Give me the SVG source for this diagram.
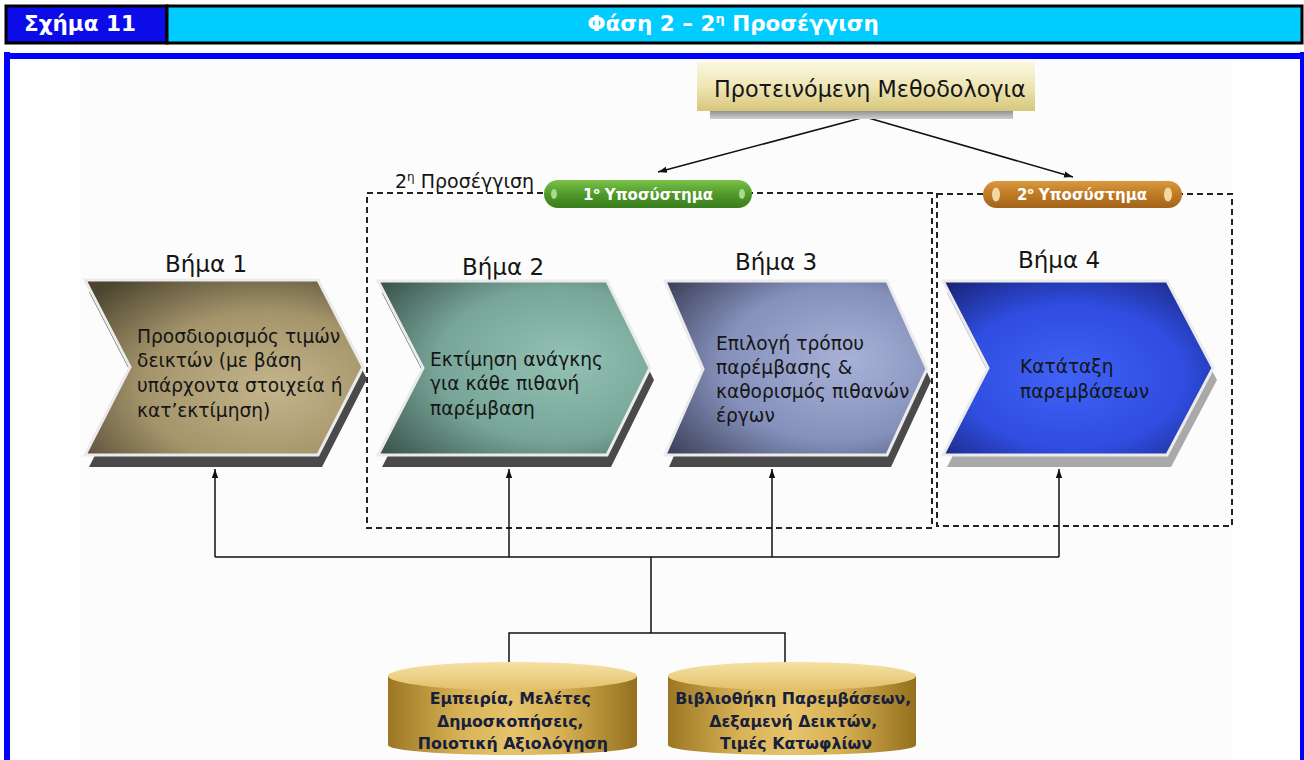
<svg xmlns="http://www.w3.org/2000/svg" width="1304" height="760" viewBox="0 0 1304 760">
<defs>
  <style>
    .t { font-family: "DejaVu Sans", Verdana, "Noto Sans", sans-serif; fill: #151515; }
    .hdr { font-family: "DejaVu Sans", Verdana, sans-serif; font-weight: bold; fill: #ffffff; font-size: 21.5px; }
    .step { font-size: 23px; }
    .body { font-size: 18.6px; }
    .pill { font-family: "DejaVu Sans", Verdana, sans-serif; font-weight: bold; fill: #ffffff; font-size: 15px; }
    .cyl { font-family: "DejaVu Sans", Verdana, sans-serif; font-weight: bold; fill: #16203c; font-size: 15.8px; }
    .conn { stroke: #111; stroke-width: 1.5; fill: none; }
    .dash { stroke: #222; stroke-width: 2; stroke-dasharray: 6 4; fill: none; }
    .chev { stroke: #ebebeb; stroke-width: 3; stroke-linejoin: miter; }
    .shd { fill: #4a4a4a; }
  </style>
  <marker id="ah" viewBox="0 0 10 10" refX="10" refY="5" markerWidth="9" markerHeight="9" markerUnits="userSpaceOnUse" orient="auto">
    <path d="M0,1.5 L10,5 L0,8.5 Z" fill="#111"/>
  </marker>
  <linearGradient id="gMeth" x1="0" y1="0" x2="0" y2="1">
    <stop offset="0" stop-color="#fbf8e2"/>
    <stop offset="0.5" stop-color="#efe6b4"/>
    <stop offset="1" stop-color="#d6c67c"/>
  </linearGradient>
  <linearGradient id="gMethShadow" x1="0" y1="0" x2="0" y2="1">
    <stop offset="0" stop-color="#7a7a7a"/>
    <stop offset="1" stop-color="#d0d0d0"/>
  </linearGradient>
  <radialGradient id="g1" cx="0.62" cy="0.62" r="0.8" fx="0.68" fy="0.62">
    <stop offset="0" stop-color="#c4b58c"/>
    <stop offset="0.55" stop-color="#a3946a"/>
    <stop offset="1" stop-color="#4c4430"/>
  </radialGradient>
  <radialGradient id="g2" cx="0.62" cy="0.5" r="0.8" fx="0.7" fy="0.45">
    <stop offset="0" stop-color="#93c1b3"/>
    <stop offset="0.55" stop-color="#77a597"/>
    <stop offset="1" stop-color="#364d47"/>
  </radialGradient>
  <radialGradient id="g3" cx="0.62" cy="0.5" r="0.8" fx="0.7" fy="0.45">
    <stop offset="0" stop-color="#a8b2d8"/>
    <stop offset="0.55" stop-color="#8590bb"/>
    <stop offset="1" stop-color="#373b52"/>
  </radialGradient>
  <radialGradient id="g4" cx="0.5" cy="0.55" r="0.75" fx="0.45" fy="0.55">
    <stop offset="0" stop-color="#3f62f5"/>
    <stop offset="0.55" stop-color="#2f4de0"/>
    <stop offset="1" stop-color="#16206e"/>
  </radialGradient>
  <linearGradient id="gGreen" x1="0" y1="0" x2="0" y2="1">
    <stop offset="0" stop-color="#7cc24a"/>
    <stop offset="0.5" stop-color="#4f9a2a"/>
    <stop offset="1" stop-color="#3a7d1c"/>
  </linearGradient>
  <linearGradient id="gOrange" x1="0" y1="0" x2="0" y2="1">
    <stop offset="0" stop-color="#d9983e"/>
    <stop offset="0.5" stop-color="#bf7a24"/>
    <stop offset="1" stop-color="#a2641a"/>
  </linearGradient>
  <linearGradient id="gCylBody" x1="0" y1="0" x2="1" y2="0">
    <stop offset="0" stop-color="#9c7622"/>
    <stop offset="0.3" stop-color="#d9b457"/>
    <stop offset="0.5" stop-color="#e6c46c"/>
    <stop offset="0.7" stop-color="#d6b052"/>
    <stop offset="1" stop-color="#94701e"/>
  </linearGradient>
  <linearGradient id="gCylTop" x1="0" y1="0" x2="0" y2="1">
    <stop offset="0" stop-color="#f6e2a4"/>
    <stop offset="1" stop-color="#e2c06a"/>
  </linearGradient>
</defs>

<!-- page background -->
<rect x="0" y="0" width="1304" height="760" fill="#ffffff"/>
<rect x="80" y="60" width="1152" height="700" fill="#fcfcfc"/>

<!-- header -->
<g id="header">
  <rect x="6" y="6" width="161" height="37" fill="#0c0ce8" stroke="#000" stroke-width="3"/>
  <rect x="167" y="6" width="1135" height="37" fill="#00ccff" stroke="#000" stroke-width="3"/>
  <text class="hdr" x="24" y="31">Σχήμα 11</text>
  <text class="hdr" x="733" y="31" text-anchor="middle">Φάση 2 – 2<tspan font-size="13" dy="-8">η</tspan><tspan dy="8"> Προσέγγιση</tspan></text>
</g>

<!-- blue frame -->
<g id="frame" fill="#0000ff">
  <rect x="4" y="53" width="1298" height="6"/>
  <rect x="4" y="52" width="6" height="708"/>
  <rect x="1300" y="52" width="4" height="708"/>
</g>

<!-- dashed groupings -->
<g id="groups">
  <rect class="dash" x="367" y="193" width="565" height="335"/>
  <rect class="dash" x="937" y="194" width="295" height="332"/>
</g>

<!-- connectors -->
<g id="connectors">
  <line class="conn" x1="865" y1="117" x2="658" y2="172" marker-end="url(#ah)"/>
  <line class="conn" x1="865" y1="117" x2="1073" y2="177" marker-end="url(#ah)"/>
  <polyline class="conn" points="215,557 1059,557"/>
  <line class="conn" x1="215" y1="557" x2="215" y2="469" marker-end="url(#ah)"/>
  <line class="conn" x1="509" y1="557" x2="509" y2="469" marker-end="url(#ah)"/>
  <line class="conn" x1="772" y1="557" x2="772" y2="469" marker-end="url(#ah)"/>
  <line class="conn" x1="1059" y1="557" x2="1059" y2="469" marker-end="url(#ah)"/>
  <line class="conn" x1="651" y1="557" x2="651" y2="633"/>
  <polyline class="conn" points="509,667 509,633 785,633 785,667"/>
</g>

<!-- proposed methodology -->
<g id="methodology">
  <rect x="710" y="108" width="303" height="11" fill="url(#gMethShadow)"/>
  <rect x="697" y="61" width="338" height="50" fill="url(#gMeth)"/>
  <text class="t" x="714" y="97" font-size="22.3">Προτεινόμενη Μεθοδολογια</text>
</g>

<!-- approach label -->
<g id="approach-label">
  <text class="t" x="395" y="188" font-size="19">2<tspan font-size="12" dy="-7">η</tspan><tspan dy="7"> Προσέγγιση</tspan></text>
</g>

<!-- subsystem pills -->
<g id="subsystem1">
  <rect x="544" y="180" width="208" height="28" rx="14" fill="url(#gGreen)"/>
  <ellipse cx="554" cy="194" rx="3" ry="5" fill="#a9d98c"/>
  <ellipse cx="742" cy="194" rx="3" ry="5" fill="#a9d98c"/>
  <text class="pill" x="648" y="200" text-anchor="middle">1<tspan font-size="9" dy="-6">ο</tspan><tspan dy="6"> Υποσύστημα</tspan></text>
</g>
<g id="subsystem2">
  <rect x="983" y="181" width="199" height="27" rx="13.5" fill="url(#gOrange)"/>
  <ellipse cx="996" cy="194.5" rx="4" ry="7" fill="#f3d7a2"/>
  <ellipse cx="1168" cy="194.5" rx="4" ry="7" fill="#f3d7a2"/>
  <text class="pill" x="1082" y="200" text-anchor="middle">2<tspan font-size="9" dy="-6">ο</tspan><tspan dy="6"> Υποσύστημα</tspan></text>
</g>

<!-- step 1 -->
<g id="step1">
  <text class="t step" x="165" y="272">Βήμα 1</text>
  <polygon class="shd" points="89,292 322,292 367,379 322,467 89,467 134,379"/>
  <polygon class="chev" fill="url(#g1)" points="85,280 318,280 363,367 318,455 85,455 130,367"/>
  <text class="t body">
    <tspan x="137" y="343">Προσδιορισμός τιμών</tspan>
    <tspan x="137" y="367">δεικτών (με βάση</tspan>
    <tspan x="137" y="392">υπάρχοντα στοιχεία ή</tspan>
    <tspan x="137" y="417">κατ’εκτίμηση)</tspan>
  </text>
</g>

<!-- step 2 -->
<g id="step2">
  <text class="t step" x="462" y="275">Βήμα 2</text>
  <polygon class="shd" points="382,293 611,293 654,380 611,467 382,467 427,380"/>
  <polygon class="chev" fill="url(#g2)" points="378,281 607,281 650,368 607,455 378,455 423,368"/>
  <text class="t body">
    <tspan x="430" y="366">Εκτίμηση ανάγκης</tspan>
    <tspan x="430" y="390">για κάθε πιθανή</tspan>
    <tspan x="430" y="415">παρέμβαση</tspan>
  </text>
</g>

<!-- step 3 -->
<g id="step3">
  <text class="t step" x="735" y="270">Βήμα 3</text>
  <polygon class="shd" points="669,293 891,293 931,381 891,467 669,467 707,381"/>
  <polygon class="chev" fill="url(#g3)" points="665,281 887,281 927,369 887,455 665,455 703,369"/>
  <text class="t body">
    <tspan x="716" y="350">Επιλογή τρόπου</tspan>
    <tspan x="716" y="374">παρέμβασης &amp;</tspan>
    <tspan x="716" y="398">καθορισμός πιθανών</tspan>
    <tspan x="716" y="422">έργων</tspan>
  </text>
</g>

<!-- step 4 -->
<g id="step4">
  <text class="t step" x="1018" y="268">Βήμα 4</text>
  <polygon fill="#a9a9a9" points="947,293 1171,293 1217,380 1171,467 947,467 992,380"/>
  <polygon class="chev" fill="url(#g4)" points="943,281 1167,281 1213,368 1167,455 943,455 988,368"/>
  <text class="t body">
    <tspan x="1020" y="373">Κατάταξη</tspan>
    <tspan x="1020" y="398">παρεμβάσεων</tspan>
  </text>
</g>

<!-- databases -->
<g id="db1">
  <path d="M388,676 L388,745 A124.5,10 0 0 0 637,745 L637,676 Z" fill="url(#gCylBody)"/>
  <ellipse cx="512.5" cy="676" rx="124.5" ry="14" fill="url(#gCylTop)"/>
  <text class="cyl" text-anchor="middle">
    <tspan x="513" y="704">Εμπειρία, Μελέτες</tspan>
    <tspan x="513" y="727">Δημοσκοπήσεις,</tspan>
    <tspan x="513" y="749">Ποιοτική Αξιολόγηση</tspan>
  </text>
</g>
<g id="db2">
  <path d="M668,676 L668,745 A124,10 0 0 0 916,745 L916,676 Z" fill="url(#gCylBody)"/>
  <ellipse cx="792" cy="676" rx="124" ry="14" fill="url(#gCylTop)"/>
  <text class="cyl" text-anchor="middle">
    <tspan x="796" y="704">Βιβλιοθήκη Παρεμβάσεων,</tspan>
    <tspan x="796" y="727">Δεξαμενή Δεικτών,</tspan>
    <tspan x="796" y="749">Τιμές Κατωφλίων</tspan>
  </text>
</g>
</svg>
